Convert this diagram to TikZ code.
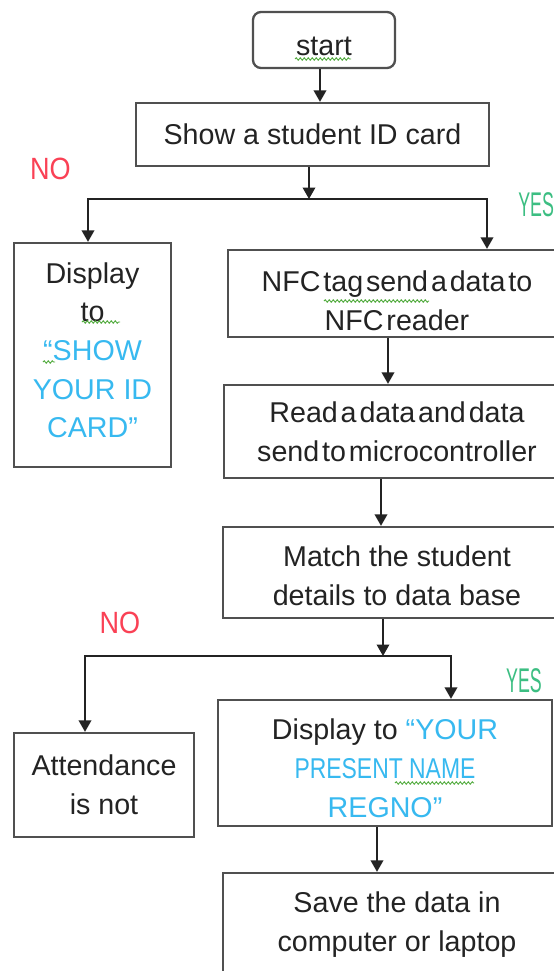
\documentclass[tikz,border=0pt]{standalone}
\usepackage{fontspec}
\setmainfont{Liberation Sans}
\newfontfamily\noface[FakeStretch=0.88]{Liberation Sans}
\newfontfamily\yesface[FakeStretch=0.52]{Liberation Sans}
\newfontfamily\capsface[FakeStretch=0.8]{Liberation Sans}
\usepackage{tikz}
\usetikzlibrary{arrows.meta, decorations.pathmorphing}
\definecolor{ink}{RGB}{35,35,35}
\definecolor{edge}{RGB}{80,80,80}
\definecolor{skyblue}{RGB}{55,185,240}
\definecolor{nored}{RGB}{250,65,85}
\definecolor{yesgreen}{RGB}{60,190,130}
\definecolor{spell}{RGB}{80,170,60}
\newcommand{\hl}[1]{\textcolor{skyblue}{#1}}
% extra room above the first line pushes the text down in its box
\newcommand{\topgap}[1]{\rule{0pt}{\dimexpr 12pt+#1\relax}}
\tikzset{
  stepbox/.style={draw=edge, line width=1.3pt, align=center, text=ink, inner sep=0pt,
    font=\fontsize{16.3pt}{22pt}\selectfont},
  tight/.style={execute at begin node={\spaceskip=0.1em\relax}},
  higher/.style={execute at end node={\rule[-#1]{0pt}{0pt}}},
  flow/.style={draw=ink, line width=1.1pt, -{Triangle[width=2.5mm,length=2.3mm]}},
  nolabel/.style={text=nored, inner sep=0pt, font=\noface\fontsize{17.5pt}{18pt}\selectfont},
  yeslabel/.style={text=yesgreen, inner sep=0pt, font=\yesface\fontsize{19.5pt}{20pt}\selectfont},
  squiggle/.style={draw=spell, line width=0.5pt, decorate,
    decoration={snake, amplitude=0.25mm, segment length=0.8mm}},
}
\begin{document}
\begin{tikzpicture}[x=0.2mm, y=-0.2mm]
  \useasboundingbox (0,0) rectangle (554,971);
  \clip (0,0) rectangle (554,971);
  \fill[white] (0,0) rectangle (554,971);

  \node[stepbox, rounded corners=1.6mm, minimum width=28.4mm, minimum height=11.2mm] (Start) at (324,40) {\topgap{2mm}start};
  \node[stepbox, minimum width=70.6mm, minimum height=12.6mm] (Show) at (312.5,134.5) {Show a student ID card};
  \node[stepbox, higher=2mm, minimum width=31.4mm, minimum height=44.8mm] (Disp) at (92.5,355)
    {Display\\to\\\hl{“SHOW}\\\hl{YOUR ID}\\\hl{CARD”}};
  \node[stepbox, tight, minimum width=67.6mm, minimum height=17.4mm] (NFC) at (397,293.5)
    {\topgap{2.8mm}NFC tag send a data to\\NFC reader};
  \node[stepbox, tight, minimum width=69.2mm, minimum height=18.6mm] (Read) at (397,431.5)
    {Read a data and data\\send to microcontroller};
  \node[stepbox, minimum width=69.6mm, minimum height=18.2mm] (Match) at (397,572.5)
    {\topgap{1.2mm}Match the student\\details to data base};
  \node[stepbox, minimum width=36mm, minimum height=20.8mm] (Att) at (104,785) {Attendance\\is not};
  \node[stepbox, minimum width=66.8mm, minimum height=25.2mm] (Reg) at (385,763)
    {\topgap{2mm}Display to \hl{“YOUR}\\{\capsface\hl{PRESENT NAME}}\\\hl{REGNO”}};
  \node[stepbox, minimum width=69.6mm, minimum height=20.6mm] (Save) at (397,924.5)
    {Save the data in\\computer or laptop};

  \node[nolabel] (No1) at (50.5,168.5) {NO};
  \node[yeslabel, anchor=west] (Yes1) at (518,205) {YES};
  \node[nolabel] (No2) at (120,622.5) {NO};
  \node[yeslabel] (Yes2) at (524,680.5) {YES};

  \coordinate (F1) at (309,199);
  \coordinate (N1) at (88,199);
  \coordinate (Y1) at (487,199);
  \coordinate (F2) at (383,656);
  \coordinate (N2) at (85,656);
  \coordinate (Y2) at (451,656);

  \draw[flow] ([xshift=-0.8mm]Start.south) -- ([xshift=1.5mm]Show.north);
  \draw[flow] (Show.south -| F1) -- (F1);
  \draw[flow] (F1) -- (N1) -- (N1 |- Disp.north);
  \draw[flow] (F1) -- (Y1) -- (Y1 |- NFC.north);
  \draw[flow] ([xshift=-1.8mm]NFC.south) -- ([xshift=-1.8mm]Read.north);
  \draw[flow] ([xshift=-3.2mm]Read.south) -- ([xshift=-3.2mm]Match.north);
  \draw[flow] (Match.south -| F2) -- (F2);
  \draw[flow] (F2) -- (N2) -- (N2 |- Att.north);
  \draw[flow] (F2) -- (Y2) -- (Y2 |- Reg.north);
  \draw[flow] ([xshift=-1.6mm]Reg.south) -- ([xshift=-4mm]Save.north);

  \draw[squiggle] (295,59) -- (351,59);
  \draw[squiggle] (82,322) -- (120,322);
  \draw[squiggle] (43,362) -- (55,362);
  \draw[squiggle] (324,301) -- (429,301);
  \draw[squiggle] (395,783) -- (474,783);
\end{tikzpicture}
\end{document}
